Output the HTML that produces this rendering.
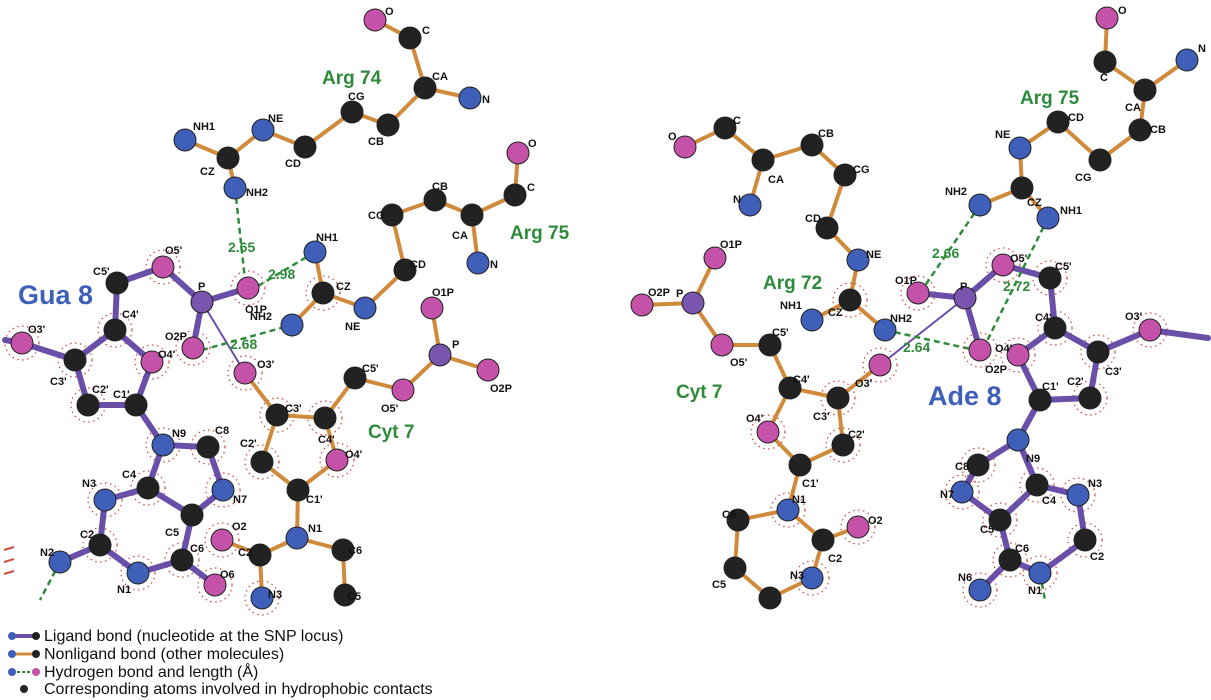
<!DOCTYPE html><html><head><meta charset="utf-8"><style>body{margin:0;background:#fff}svg{display:block}text{font-family:"Liberation Sans",sans-serif;font-weight:bold}</style></head><body>
<svg width="1211" height="700" viewBox="0 0 1211 700">
<g fill="none" stroke="#d05040" stroke-width="1.3" stroke-dasharray="1.5,3.5">
<circle cx="163" cy="267" r="17"/><circle cx="248" cy="288" r="17"/><circle cx="193" cy="348" r="17"/><circle cx="115" cy="330" r="17"/><circle cx="152" cy="362" r="17"/><circle cx="22" cy="343" r="17"/><circle cx="75" cy="360" r="17"/><circle cx="88" cy="405" r="17"/><circle cx="163" cy="445" r="17"/><circle cx="208" cy="447" r="17"/><circle cx="223" cy="490" r="17"/><circle cx="148" cy="488" r="17"/><circle cx="105" cy="500" r="17"/><circle cx="100" cy="545" r="17"/><circle cx="138" cy="573" r="17"/><circle cx="182" cy="560" r="17"/><circle cx="215" cy="585" r="17"/>
<circle cx="245" cy="373" r="17"/><circle cx="277" cy="415" r="17"/><circle cx="325" cy="418" r="17"/><circle cx="262" cy="462" r="17"/><circle cx="337" cy="460" r="17"/><circle cx="222" cy="540" r="17"/><circle cx="323" cy="293" r="17"/><circle cx="262" cy="598" r="17"/>
<circle cx="918" cy="293" r="17"/><circle cx="1003" cy="265" r="17"/><circle cx="980" cy="350" r="17"/><circle cx="1018" cy="355" r="17"/><circle cx="1150" cy="330" r="17"/><circle cx="1098" cy="352" r="17"/><circle cx="1090" cy="398" r="17"/><circle cx="1055" cy="328" r="17"/><circle cx="1050" cy="278" r="17"/>
<circle cx="978" cy="465" r="17"/><circle cx="962" cy="492" r="17"/><circle cx="1000" cy="520" r="17"/><circle cx="1010" cy="560" r="17"/><circle cx="980" cy="590" r="17"/><circle cx="1040" cy="573" r="17"/><circle cx="1085" cy="540" r="17"/><circle cx="1078" cy="495" r="17"/><circle cx="1037" cy="485" r="17"/>
<circle cx="880" cy="365" r="17"/><circle cx="838" cy="398" r="17"/><circle cx="843" cy="445" r="17"/><circle cx="768" cy="432" r="17"/><circle cx="858" cy="527" r="17"/><circle cx="812" cy="578" r="17"/><circle cx="788" cy="510" r="17"/><circle cx="850" cy="300" r="17"/>
</g>
<g stroke="#d05040" stroke-width="2"><line x1="4" y1="550" x2="14" y2="547"/><line x1="4" y1="562" x2="14" y2="559"/><line x1="4" y1="574" x2="14" y2="571"/></g>
<g stroke="#d08a3c" stroke-width="4" fill="none" stroke-linecap="round">
<polyline points="375,20 410,38 425,88 470,98"/><polyline points="425,88 388,125 352,112 305,147 263,130 228,158 185,140"/><line x1="228" y1="158" x2="235" y2="188"/>
<polyline points="518,153 515,195 472,215 478,263"/><polyline points="472,215 435,200 392,215 405,270 365,308 323,293 315,252"/><line x1="323" y1="293" x2="292" y2="325"/>
<polyline points="245,373 277,415 325,418 337,460 298,490 262,462 277,415"/><polyline points="325,418 355,378 403,390 440,355 432,308"/><line x1="440" y1="355" x2="488" y2="370"/>
<polyline points="298,490 297,538 343,550 345,595"/><polyline points="297,538 260,555 222,540"/><line x1="260" y1="555" x2="262" y2="598"/>
<polyline points="1107,18 1105,62 1145,90 1187,60"/><polyline points="1145,90 1140,130 1100,160 1058,122 1020,148 1022,188 980,205"/><line x1="1022" y1="188" x2="1048" y2="218"/>
<polyline points="685,147 725,128 763,160 750,205"/><polyline points="763,160 812,145 845,175 827,228 858,260 850,300 812,320"/><line x1="850" y1="300" x2="885" y2="330"/>
<polyline points="715,258 693,303 642,305"/><polyline points="693,303 722,345 770,345 790,388 838,398 880,365"/><polyline points="790,388 768,432 800,465 843,445 838,398"/>
<polyline points="800,465 788,510 738,520 735,568 770,598 812,578 823,540 788,510"/><line x1="823" y1="540" x2="858" y2="527"/>
</g>
<g stroke="#6a4fa8" stroke-width="6" fill="none" stroke-linecap="round">
<polyline points="248,288 202,302 163,267 117,283 115,330 152,362 136,405 88,405 75,360 115,330"/><polyline points="75,360 22,343 5,340"/><line x1="202" y1="302" x2="193" y2="348"/>
<polyline points="136,405 163,445 208,447 223,490 192,515 148,488 163,445"/><polyline points="148,488 105,500 100,545 138,573 182,560 192,515"/><line x1="100" y1="545" x2="60" y2="562"/><line x1="182" y1="560" x2="215" y2="585"/>
<polyline points="918,293 965,298 1003,265 1050,278 1055,328 1018,355 1040,400 1090,398 1098,352 1055,328"/><line x1="965" y1="298" x2="980" y2="350"/><polyline points="1098,352 1150,330 1208,338"/>
<polyline points="1040,400 1018,440 978,465 962,492 1000,520 1037,485 1018,440"/><polyline points="1037,485 1078,495 1085,540 1040,573 1010,560 1000,520"/><line x1="1010" y1="560" x2="980" y2="590"/>
</g>
<g stroke="#6a4fa8" stroke-width="2"><line x1="202" y1="302" x2="245" y2="373"/><line x1="965" y1="298" x2="880" y2="365"/></g>
<g stroke="#2e8b3c" stroke-width="2.5" stroke-dasharray="6,4">
<line x1="235" y1="188" x2="245" y2="280"/><line x1="258" y1="286" x2="315" y2="252"/><line x1="202" y1="350" x2="292" y2="325"/>
<line x1="980" y1="205" x2="922" y2="290"/><line x1="1048" y1="218" x2="985" y2="345"/><line x1="885" y1="330" x2="975" y2="350"/>
<line x1="60" y1="562" x2="40" y2="600"/><line x1="1040" y1="573" x2="1045" y2="600"/>
</g>
<g stroke="#222" stroke-width="1">
<g fill="#222">
<circle cx="410" cy="38" r="11"/><circle cx="425" cy="88" r="11"/><circle cx="388" cy="125" r="11"/><circle cx="352" cy="112" r="11"/><circle cx="305" cy="147" r="11"/><circle cx="228" cy="158" r="11"/>
<circle cx="515" cy="195" r="11"/><circle cx="472" cy="215" r="11"/><circle cx="435" cy="200" r="11"/><circle cx="392" cy="215" r="11"/><circle cx="405" cy="270" r="11"/><circle cx="323" cy="293" r="11"/>
<circle cx="117" cy="283" r="11"/><circle cx="115" cy="330" r="11"/><circle cx="75" cy="360" r="11"/><circle cx="88" cy="405" r="11"/><circle cx="136" cy="405" r="11"/><circle cx="208" cy="447" r="11"/><circle cx="192" cy="515" r="11"/><circle cx="148" cy="488" r="11"/><circle cx="100" cy="545" r="11"/><circle cx="182" cy="560" r="11"/>
<circle cx="277" cy="415" r="11"/><circle cx="325" cy="418" r="11"/><circle cx="298" cy="490" r="11"/><circle cx="262" cy="462" r="11"/><circle cx="355" cy="378" r="11"/><circle cx="343" cy="550" r="11"/><circle cx="345" cy="595" r="11"/><circle cx="260" cy="555" r="11"/>
<circle cx="1105" cy="62" r="11"/><circle cx="1145" cy="90" r="11"/><circle cx="1140" cy="130" r="11"/><circle cx="1100" cy="160" r="11"/><circle cx="1058" cy="122" r="11"/><circle cx="1022" cy="188" r="11"/>
<circle cx="725" cy="128" r="11"/><circle cx="763" cy="160" r="11"/><circle cx="812" cy="145" r="11"/><circle cx="845" cy="175" r="11"/><circle cx="827" cy="228" r="11"/><circle cx="850" cy="300" r="11"/>
<circle cx="770" cy="345" r="11"/><circle cx="790" cy="388" r="11"/><circle cx="838" cy="398" r="11"/><circle cx="843" cy="445" r="11"/><circle cx="800" cy="465" r="11"/><circle cx="738" cy="520" r="11"/><circle cx="735" cy="568" r="11"/><circle cx="770" cy="598" r="11"/><circle cx="823" cy="540" r="11"/>
<circle cx="1050" cy="278" r="11"/><circle cx="1055" cy="328" r="11"/><circle cx="1098" cy="352" r="11"/><circle cx="1090" cy="398" r="11"/><circle cx="1040" cy="400" r="11"/><circle cx="978" cy="465" r="11"/><circle cx="1000" cy="520" r="11"/><circle cx="1037" cy="485" r="11"/><circle cx="1085" cy="540" r="11"/><circle cx="1010" cy="560" r="11"/>
</g>
<g fill="#3f5fb8">
<circle cx="470" cy="98" r="11"/><circle cx="263" cy="130" r="11"/><circle cx="185" cy="140" r="11"/><circle cx="235" cy="188" r="11"/><circle cx="478" cy="263" r="11"/><circle cx="365" cy="308" r="11"/><circle cx="315" cy="252" r="11"/><circle cx="292" cy="325" r="11"/>
<circle cx="163" cy="445" r="11"/><circle cx="223" cy="490" r="11"/><circle cx="105" cy="500" r="11"/><circle cx="60" cy="562" r="11"/><circle cx="138" cy="573" r="11"/><circle cx="297" cy="538" r="11"/><circle cx="262" cy="598" r="11"/>
<circle cx="1187" cy="60" r="11"/><circle cx="1020" cy="148" r="11"/><circle cx="980" cy="205" r="11"/><circle cx="1048" cy="218" r="11"/><circle cx="750" cy="205" r="11"/><circle cx="858" cy="260" r="11"/><circle cx="812" cy="320" r="11"/><circle cx="885" cy="330" r="11"/>
<circle cx="788" cy="510" r="11"/><circle cx="812" cy="578" r="11"/><circle cx="1018" cy="440" r="11"/><circle cx="962" cy="492" r="11"/><circle cx="1078" cy="495" r="11"/><circle cx="1040" cy="573" r="11"/><circle cx="980" cy="590" r="11"/>
</g>
<g fill="#c452a8">
<circle cx="375" cy="20" r="11"/><circle cx="518" cy="153" r="11"/><circle cx="163" cy="267" r="11"/><circle cx="248" cy="288" r="11"/><circle cx="193" cy="348" r="11"/><circle cx="152" cy="362" r="11"/><circle cx="22" cy="343" r="11"/><circle cx="215" cy="585" r="11"/>
<circle cx="245" cy="373" r="11"/><circle cx="337" cy="460" r="11"/><circle cx="403" cy="390" r="11"/><circle cx="432" cy="308" r="11"/><circle cx="488" cy="370" r="11"/><circle cx="222" cy="540" r="11"/>
<circle cx="1107" cy="18" r="11"/><circle cx="685" cy="147" r="11"/><circle cx="715" cy="258" r="11"/><circle cx="642" cy="305" r="11"/><circle cx="722" cy="345" r="11"/><circle cx="880" cy="365" r="11"/><circle cx="768" cy="432" r="11"/><circle cx="858" cy="527" r="11"/>
<circle cx="918" cy="293" r="11"/><circle cx="1003" cy="265" r="11"/><circle cx="980" cy="350" r="11"/><circle cx="1018" cy="355" r="11"/><circle cx="1150" cy="330" r="11"/>
</g>
<g fill="#7a55b0"><circle cx="202" cy="302" r="11"/><circle cx="440" cy="355" r="11"/><circle cx="693" cy="303" r="11"/><circle cx="965" cy="298" r="11"/></g>
</g>
<g font-size="11" fill="#111">
<text x="385" y="15">O</text><text x="422" y="34">C</text><text x="432" y="80">CA</text><text x="482" y="103">N</text><text x="348" y="100">CG</text><text x="368" y="145">CB</text><text x="285" y="167">CD</text><text x="268" y="122">NE</text><text x="193" y="130">NH1</text><text x="200" y="175">CZ</text><text x="246" y="196">NH2</text>
<text x="528" y="147">O</text><text x="527" y="191">C</text><text x="452" y="239">CA</text><text x="490" y="268">N</text><text x="432" y="190">CB</text><text x="368" y="219">CG</text><text x="410" y="268">CD</text><text x="345" y="330">NE</text><text x="336" y="290">CZ</text><text x="316" y="241">NH1</text><text x="250" y="320">NH2</text>
<text x="93" y="275">C5'</text><text x="165" y="254">O5'</text><text x="198" y="290">P</text><text x="245" y="313">O1P</text><text x="165" y="340">O2P</text><text x="122" y="318">C4'</text><text x="158" y="358">O4'</text><text x="28" y="333">O3'</text><text x="50" y="385">C3'</text><text x="92" y="393">C2'</text><text x="113" y="398">C1'</text>
<text x="172" y="437">N9</text><text x="215" y="434">C8</text><text x="233" y="503">N7</text><text x="165" y="536">C5</text><text x="122" y="478">C4</text><text x="82" y="487">N3</text><text x="80" y="538">C2</text><text x="40" y="556">N2</text><text x="117" y="593">N1</text><text x="190" y="552">C6</text><text x="220" y="578">O6</text>
<text x="257" y="368">O3'</text><text x="285" y="412">C3'</text><text x="318" y="443">C4'</text><text x="345" y="458">O4'</text><text x="306" y="503">C1'</text><text x="240" y="447">C2'</text><text x="362" y="372">C5'</text><text x="381" y="412">O5'</text><text x="452" y="348">P</text><text x="432" y="296">O1P</text><text x="490" y="392">O2P</text>
<text x="308" y="532">N1</text><text x="348" y="554">C6</text><text x="347" y="600">C5</text><text x="238" y="556">C2</text><text x="232" y="530">O2</text><text x="268" y="598">N3</text>
<text x="1118" y="14">O</text><text x="1100" y="81">C</text><text x="1125" y="111">CA</text><text x="1198" y="52">N</text><text x="1150" y="133">CB</text><text x="1075" y="181">CG</text><text x="1068" y="121">CD</text><text x="995" y="138">NE</text><text x="1027" y="206">CZ</text><text x="945" y="195">NH2</text><text x="1060" y="214">NH1</text>
<text x="668" y="140">O</text><text x="733" y="124">C</text><text x="768" y="183">CA</text><text x="733" y="203">N</text><text x="818" y="137">CB</text><text x="853" y="173">CG</text><text x="805" y="222">CD</text><text x="866" y="258">NE</text><text x="828" y="316">CZ</text><text x="780" y="309">NH1</text><text x="890" y="322">NH2</text>
<text x="720" y="248">O1P</text><text x="676" y="297">P</text><text x="648" y="296">O2P</text><text x="730" y="366">O5'</text><text x="772" y="336">C5'</text><text x="793" y="383">C4'</text><text x="813" y="420">C3'</text><text x="855" y="387">O3'</text><text x="848" y="438">C2'</text><text x="802" y="487">C1'</text><text x="746" y="422">O4'</text>
<text x="792" y="503">N1</text><text x="722" y="518">C6</text><text x="712" y="588">C5</text><text x="790" y="579">N3</text><text x="828" y="562">C2</text><text x="868" y="524">O2</text>
<text x="895" y="284">O1P</text><text x="960" y="290">P</text><text x="1010" y="262">O5'</text><text x="1055" y="270">C5'</text><text x="1035" y="321">C4'</text><text x="985" y="373">O2P</text><text x="995" y="352">O4'</text><text x="1125" y="320">O3'</text><text x="1105" y="375">C3'</text><text x="1067" y="385">C2'</text><text x="1042" y="390">C1'</text>
<text x="1026" y="462">N9</text><text x="955" y="470">C8</text><text x="940" y="498">N7</text><text x="980" y="533">C5</text><text x="1042" y="504">C4</text><text x="1088" y="487">N3</text><text x="1090" y="560">C2</text><text x="1028" y="594">N1</text><text x="1015" y="552">C6</text><text x="958" y="581">N6</text>
</g>
<g font-size="14" fill="#2e8b3c"><text x="228" y="252">2.65</text><text x="268" y="279">2.98</text><text x="230" y="349">2.68</text><text x="932" y="258">2.66</text><text x="1003" y="291">2.72</text><text x="903" y="352">2.64</text></g>
<g font-size="19" fill="#2e8b3c"><text x="322" y="84">Arg 74</text><text x="510" y="239">Arg 75</text><text x="368" y="438">Cyt 7</text><text x="1020" y="104">Arg 75</text><text x="763" y="289">Arg 72</text><text x="676" y="398">Cyt 7</text></g>
<g font-size="27" fill="#3f5fb8"><text x="18" y="304">Gua 8</text><text x="928" y="405">Ade 8</text></g>
<g font-size="16" fill="#111">
<line x1="12" y1="636" x2="36" y2="636" stroke="#6a4fa8" stroke-width="4"/><circle cx="12" cy="636" r="4" fill="#3f5fb8"/><circle cx="36" cy="636" r="4" fill="#222"/><text x="44" y="641" style="font-weight:normal">Ligand bond (nucleotide at the SNP locus)</text>
<line x1="12" y1="654" x2="36" y2="654" stroke="#d08a3c" stroke-width="3"/><circle cx="12" cy="654" r="4" fill="#3f5fb8"/><circle cx="36" cy="654" r="4" fill="#222"/><text x="44" y="659" style="font-weight:normal">Nonligand bond (other molecules)</text>
<line x1="12" y1="672" x2="36" y2="672" stroke="#2e8b3c" stroke-width="2" stroke-dasharray="3,2"/><circle cx="12" cy="672" r="4" fill="#3f5fb8"/><circle cx="36" cy="672" r="4" fill="#c452a8"/><text x="44" y="677" style="font-weight:normal">Hydrogen bond and length (Å)</text>
<circle cx="24" cy="689" r="4" fill="#222"/><text x="44" y="694" style="font-weight:normal">Corresponding atoms involved in hydrophobic contacts</text>
</g>
</svg></body></html>
